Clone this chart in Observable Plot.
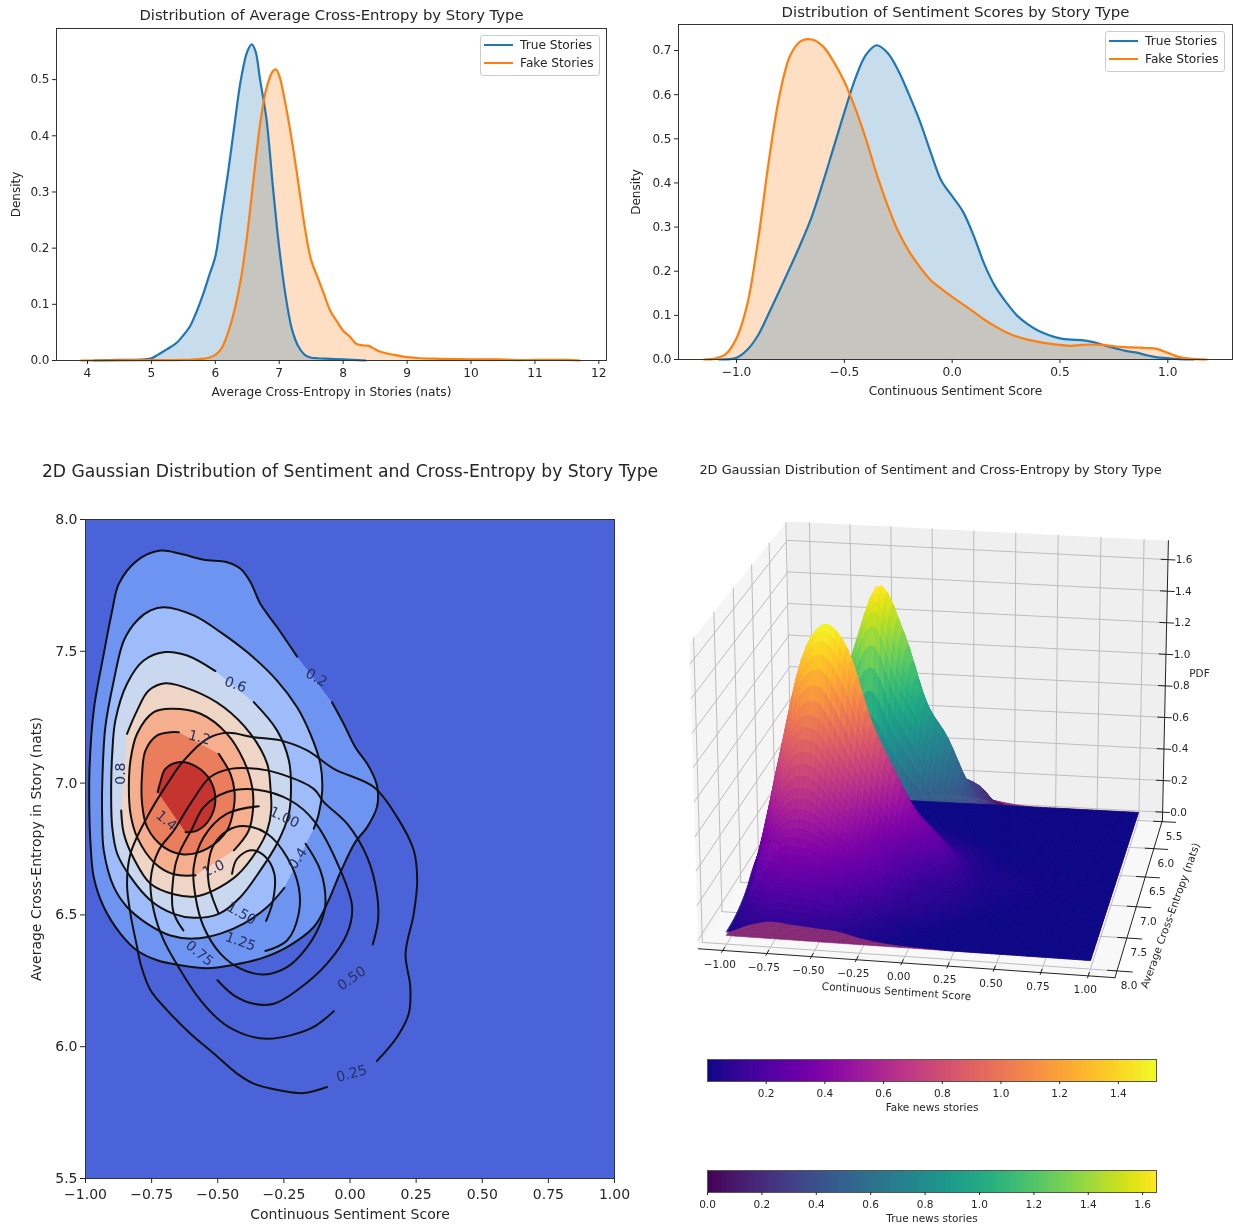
<!DOCTYPE html>
<html><head><meta charset="utf-8">
<script src="https://cdn.jsdelivr.net/npm/d3@7"></script>
<script src="https://cdn.jsdelivr.net/npm/@observablehq/plot@0.6"></script>
<style>
html,body{margin:0;padding:0;background:#fff}
#root{position:relative;width:1233px;height:1228px;overflow:hidden;font-family:"DejaVu Sans";color:#262626;filter:blur(.4px)}
.lg{position:absolute;box-sizing:border-box;width:120px;height:41px;border:1px solid #ccc;border-radius:3px;background:rgba(255,255,255,.8);font-size:12.2px}
.lg i{position:absolute;left:3px;width:29px;height:2px}
.lg span{position:absolute;left:39px;line-height:14px;white-space:nowrap}
</style></head><body><div id="root"></div>
<script>
// ---------- 1D densities (value, density) ----------
const trueEntropy=[[4.1,0],[4.5,.001],[4.9,.002],[5,.004],[5.1,.01],[5.2,.017],[5.3,.024],[5.4,.032],[5.5,.045],[5.6,.06],[5.7,.085],[5.8,.115],[5.9,.15],[6,.185],[6.1,.26],[6.2,.335],[6.3,.42],[6.4,.5],[6.5,.55],[6.57,.563],[6.63,.55],[6.7,.5],[6.8,.43],[6.9,.31],[7,.2],[7.1,.115],[7.2,.055],[7.3,.025],[7.4,.01],[7.5,.005],[7.6,.004],[7.8,.003],[8,.002],[8.35,0]];
const fakeEntropy=[[3.9,0],[5,.0005],[5.5,.001],[5.8,.003],[5.9,.005],[6,.01],[6.1,.022],[6.2,.05],[6.3,.09],[6.4,.145],[6.5,.225],[6.6,.325],[6.7,.42],[6.8,.485],[6.9,.515],[6.95,.518],[7,.507],[7.1,.455],[7.2,.39],[7.3,.315],[7.4,.237],[7.5,.178],[7.6,.148],[7.7,.118],[7.8,.088],[7.9,.07],[8,.053],[8.1,.043],[8.2,.03],[8.3,.027],[8.4,.026],[8.5,.02],[8.6,.015],[8.7,.012],[8.8,.01],[9,.006],[9.2,.004],[9.5,.003],[10,.002],[10.4,.002],[10.7,.0008],[11,.001],[11.5,.001],[11.7,0]];
const trueSentiment=[[-1.08,0],[-1,.004],[-.95,.022],[-.9,.055],[-.85,.105],[-.8,.157],[-.75,.21],[-.7,.265],[-.65,.325],[-.6,.4],[-.55,.48],[-.5,.56],[-.45,.635],[-.4,.69],[-.35,.712],[-.3,.695],[-.25,.655],[-.2,.6],[-.15,.54],[-.1,.47],[-.05,.405],[0,.37],[.05,.335],[.1,.28],[.15,.215],[.2,.165],[.25,.13],[.3,.1],[.35,.08],[.4,.065],[.45,.055],[.5,.048],[.55,.045],[.6,.044],[.65,.04],[.7,.033],[.75,.026],[.8,.02],[.85,.016],[.9,.01],[.95,.005],[1,.003],[1.05,.001],[1.12,0]];
const fakeSentiment=[[-1.15,0],[-1.1,.002],[-1.05,.012],[-1,.048],[-.95,.125],[-.9,.27],[-.85,.45],[-.8,.6],[-.75,.69],[-.7,.722],[-.65,.725],[-.6,.71],[-.55,.675],[-.5,.63],[-.45,.57],[-.4,.5],[-.35,.42],[-.3,.35],[-.25,.29],[-.2,.245],[-.15,.21],[-.1,.18],[-.05,.16],[0,.142],[.05,.125],[.1,.108],[.15,.09],[.2,.075],[.25,.062],[.3,.052],[.35,.045],[.4,.04],[.45,.036],[.5,.033],[.55,.031],[.6,.033],[.65,.034],[.7,.033],[.75,.03],[.8,.028],[.85,.027],[.9,.026],[.95,.024],[1,.015],[1.05,.006],[1.1,.002],[1.18,0]];

// ---------- contour lines (sentiment, cross-entropy) ----------
const fake02=[[-.068,7.307],[-.024,7.225],[.02,7.136],[.065,7.073],[.096,7.01],[.105,6.972],[.102,6.909],[.065,6.833],[.02,6.776],[-.036,6.662],[-.087,6.542],[-.137,6.454],[-.238,6.378],[-.339,6.334],[-.439,6.311],[-.54,6.298],[-.641,6.309],[-.729,6.328],[-.805,6.365],[-.868,6.429],[-.931,6.53],[-.969,6.644],[-.981,6.77],[-.985,6.871],[-.985,7.048],[-.969,7.275],[-.931,7.49],[-.899,7.655],[-.874,7.756],[-.805,7.844],[-.717,7.882],[-.641,7.87],[-.553,7.847],[-.465,7.838],[-.414,7.813],[-.376,7.762],[-.339,7.68],[-.276,7.592],[-.2,7.48]];
const fake04=[[-.248,6.603],[-.313,6.53],[-.402,6.467],[-.49,6.429],[-.591,6.41],[-.679,6.422],[-.767,6.467],[-.843,6.53],[-.893,6.606],[-.931,6.745],[-.937,6.871],[-.937,6.985],[-.925,7.212],[-.893,7.389],[-.855,7.541],[-.805,7.617],[-.754,7.655],[-.704,7.667],[-.591,7.636],[-.49,7.573],[-.389,7.497],[-.276,7.389],[-.2,7.288],[-.15,7.187],[-.112,7.073],[-.105,6.972],[-.118,6.884],[-.137,6.827]];
const fake06=[[-.364,7.307],[-.276,7.2],[-.231,7.086],[-.223,6.985],[-.231,6.884],[-.276,6.77],[-.339,6.669],[-.414,6.568],[-.496,6.504],[-.591,6.489],[-.666,6.504],[-.754,6.555],[-.83,6.644],[-.88,6.732],[-.899,6.833],[-.903,6.985],[-.899,7.111],[-.887,7.238],[-.843,7.377],[-.78,7.465],[-.698,7.497],[-.616,7.484],[-.509,7.425]];
const fake08=[[-.865,6.896],[-.855,6.808],[-.817,6.713],[-.754,6.618],[-.666,6.578],[-.584,6.57],[-.515,6.593],[-.427,6.65],[-.351,6.745],[-.313,6.82],[-.298,6.896],[-.301,6.985],[-.313,7.073],[-.376,7.187],[-.477,7.288],[-.591,7.351],[-.698,7.379],[-.761,7.351],[-.805,7.275],[-.843,7.187]];
const fake10=[[-.439,6.745],[-.383,6.82],[-.366,6.909],[-.37,6.985],[-.402,7.086],[-.465,7.187],[-.565,7.263],[-.679,7.282],[-.742,7.269],[-.805,7.187],[-.83,7.086],[-.836,6.985],[-.83,6.884],[-.805,6.795],[-.736,6.694],[-.666,6.654],[-.584,6.65]];
const fake12=[[-.496,7.111],[-.452,7.035],[-.437,6.972],[-.439,6.909],[-.465,6.82],[-.54,6.751],[-.628,6.729],[-.704,6.757],[-.767,6.833],[-.786,6.922],[-.786,7.035],[-.773,7.124],[-.729,7.181],[-.679,7.193],[-.647,7.193]];
const fake14=[[-.622,6.814],[-.578,6.82],[-.534,6.858],[-.509,6.934],[-.528,7.01],[-.578,7.061],[-.641,7.08],[-.698,7.054],[-.717,7.004],[-.727,6.966]];
const true025=[[-.087,5.847],[-.175,5.824],[-.263,5.834],[-.364,5.86],[-.427,5.898],[-.515,5.974],[-.603,6.049],[-.691,6.138],[-.754,6.214],[-.792,6.315],[-.805,6.378],[-.83,6.504],[-.843,6.618],[-.83,6.732],[-.767,6.871],[-.691,6.997],[-.628,7.086],[-.54,7.168],[-.465,7.191],[-.364,7.174],[-.263,7.162],[-.162,7.124],[-.061,7.054],[.09,6.985],[.178,6.871],[.241,6.745],[.254,6.631],[.241,6.504],[.21,6.353],[.228,6.226],[.222,6.125],[.178,6.037],[.102,5.946]];
const true050=[[-.061,6.135],[-.137,6.075],[-.225,6.043],[-.313,6.03],[-.389,6.043],[-.477,6.087],[-.565,6.176],[-.641,6.29],[-.704,6.403],[-.742,6.517],[-.754,6.631],[-.723,6.745],[-.666,6.82],[-.603,6.922],[-.528,7.023],[-.452,7.054],[-.351,7.054],[-.263,7.035],[-.137,6.978],[-.099,6.928],[-.011,6.846],[.065,6.719],[.102,6.58],[.106,6.479],[.086,6.388]];
const true075=[[-.501,6.252],[-.439,6.195],[-.364,6.163],[-.288,6.163],[-.2,6.214],[-.087,6.315],[-.011,6.429],[.008,6.53],[-.036,6.669],[-.137,6.858],[-.225,6.934],[-.351,6.975],[-.465,6.966],[-.553,6.909],[-.597,6.827],[-.641,6.745],[-.662,6.681],[-.669,6.517],[-.63,6.441]];
const true100=[[-.168,6.77],[-.112,6.669],[-.093,6.542],[-.112,6.467],[-.162,6.378],[-.238,6.302],[-.326,6.274],[-.414,6.296],[-.49,6.353],[-.553,6.454],[-.584,6.568],[-.591,6.681],[-.553,6.795],[-.465,6.884],[-.345,6.912]];
const true125=[[-.32,6.363],[-.238,6.403],[-.194,6.504],[-.194,6.606],[-.238,6.719],[-.313,6.808],[-.402,6.837],[-.463,6.82],[-.516,6.764],[-.536,6.688],[-.534,6.618],[-.521,6.568],[-.497,6.506]];
const true150=[[-.317,6.477],[-.291,6.555],[-.286,6.656],[-.326,6.726],[-.376,6.745],[-.427,6.713],[-.446,6.656]];
const fakeLevels=[fake02,fake04,fake06,fake08,fake10,fake12,fake14];
const fakeFills=["#6E94F2","#9DBCF9","#C9D7EF","#EFD5C6","#F6AF8E","#EA7D5B","#C6342F"];
const trueLevels=[true025,true050,true075,true100,true125,true150];
const contourLabels=[["0.2",-.127,7.4,30],["0.6",-.433,7.374,20],["1.2",-.569,7.173,15],["0.8",-.868,7.036,-90],["1.4",-.694,6.858,40],["1.00",-.248,6.87,25],["0.4",-.198,6.714,-55],["1.0",-.516,6.676,-25],["1.50",-.41,6.505,30],["1.25",-.414,6.399,20],["0.75",-.569,6.354,40],["0.50",.006,6.259,-35],["0.25",.006,5.898,-15]];

// ---------- surface heights (rows: cross-entropy, columns: sentiment) ----------
const gridS=[-1,-.875,-.75,-.625,-.5,-.375,-.25,-.125,0,.125,.25,.375,.5,.625,.75,.875,1];
const gridE=[5.5,5.75,6,6.25,6.5,6.75,7,7.25,7.5,7.75,8];
const fakePdf=[
[0,0,0,0,0,0,0,0,0,0,0,0,0,0,0,0,0],
[0,0,.002,.004,.005,.004,.003,.002,.001,0,0,0,0,0,0,0,0],
[0,.01,.02,.03,.03,.03,.02,.01,.005,.002,0,0,0,0,0,0,0],
[.005,.04,.11,.16,.17,.14,.1,.06,.03,.01,.005,0,0,0,0,0,0],
[.03,.26,.47,.61,.6,.43,.27,.21,.08,.05,.02,.005,.005,.005,.005,0,0],
[.12,.6,1.07,1.22,1.12,.78,.55,.33,.2,.09,.04,.02,.01,.01,.005,0,0],
[.17,.77,1.32,1.52,1.38,.97,.67,.43,.3,.15,.05,.03,.02,.01,.01,.005,0],
[.15,.62,.97,1.02,.81,.59,.37,.24,.13,.08,.04,.02,.01,.01,.005,0,0],
[.07,.38,.58,.6,.5,.39,.28,.14,.08,.05,.02,.005,.005,.005,0,0,0],
[.03,.2,.31,.31,.28,.2,.11,.05,.02,.01,0,0,0,0,0,0,0],
[.02,.07,.1,.09,.08,.07,.04,.02,.01,.005,0,0,0,0,0,0,0]];
const truePdf=[
[0,0,0,0,.01,.03,.05,.06,.05,.03,.01,0,0,0,0,0,0],
[0,0,.01,.03,.08,.15,.19,.2,.18,.13,.06,.01,.005,0,0,0,0],
[0,0,.04,.16,.32,.46,.47,.4,.33,.27,.1,.02,.01,.005,.005,0,0],
[0,.03,.2,.5,.8,.96,.93,.68,.47,.33,.2,.04,.01,.01,.01,.005,0],
[0,.16,.42,.83,1.22,1.6,1.36,.95,.73,.42,.2,.05,.02,.02,.01,.005,0],
[.01,.18,.44,.8,1.28,1.55,1.22,.95,.6,.42,.23,.06,.02,.02,.01,.005,0],
[0,.03,.13,.35,.6,.72,.55,.41,.32,.2,.05,.01,.01,.01,.005,0,0],
[0,0,.02,.06,.14,.17,.15,.12,.06,.02,.005,0,0,0,0,0,0],
[0,0,.005,.01,.03,.04,.03,.02,.01,0,0,0,0,0,0,0,0],
[0,0,0,.002,.005,.005,.005,0,0,0,0,0,0,0,0,0,0],
[0,0,0,0,0,0,0,0,0,0,0,0,0,0,0,0,0]];

const root=document.getElementById("root");
const INK="#262626", BLUE="#1f77b4", ORANGE="#ff7f0e";
const place=(svg,left,top)=>{svg.style.cssText+=`;position:absolute;left:${left}px;top:${top}px;max-width:none;height:auto;background:transparent;overflow:visible`;root.append(svg);return svg;};
const X=d=>d[0],Y=d=>d[1];

function legend(left,top){
  const el=document.createElement("div");el.className="lg";el.style.left=left+"px";el.style.top=top+"px";
  el.innerHTML=`<i style="top:8px;background:${BLUE}"></i><span style="top:2px">True Stories</span><i style="top:26px;background:${ORANGE}"></i><span style="top:20px">Fake Stories</span>`;
  root.append(el);
}
function densityPanel({left,top,width,height,margins,xDomain,yDomain,xTicks,xFmt,xLabel,yTicks,title,a,b,titleDy,titleSize}){
  const [mt,mr,mb,ml]=margins;
  return place(Plot.plot({width,height,marginTop:mt,marginRight:mr,marginBottom:mb,marginLeft:ml,
    style:{fontFamily:"DejaVu Sans",fontSize:"12px",color:INK},
    x:{domain:xDomain},y:{domain:yDomain},
    marks:[
      Plot.areaY(b,{x:X,y:Y,fill:ORANGE,fillOpacity:.25,curve:"catmull-rom"}),
      Plot.areaY(a,{x:X,y:Y,fill:BLUE,fillOpacity:.25,curve:"catmull-rom"}),
      Plot.lineY(a,{x:X,y:Y,stroke:BLUE,strokeWidth:2.2,curve:"catmull-rom"}),
      Plot.lineY(b,{x:X,y:Y,stroke:ORANGE,strokeWidth:2.2,curve:"catmull-rom"}),
      Plot.frame({stroke:"#333",strokeWidth:1}),
      Plot.axisX({ticks:xTicks,tickFormat:xFmt,tickSize:4,tickPadding:4,label:xLabel,labelAnchor:"center",labelArrow:"none",labelOffset:35,fontSize:12.2,fontVariant:"normal"}),
      Plot.axisY({ticks:yTicks,tickFormat:".1f",tickSize:4,tickPadding:3,label:"Density",labelAnchor:"center",labelArrow:"none",labelOffset:ml-11,fontSize:12,fontVariant:"normal"}),
      Plot.text([title],{frameAnchor:"top",lineAnchor:"middle",dy:titleDy,fontSize:titleSize,fill:INK})
    ]}),left,top);
}
densityPanel({left:0,top:0,width:620,height:410,margins:[28,14,50,56],xDomain:[3.515,12.12],yDomain:[0,.591],xTicks:[4,5,6,7,8,9,10,11,12],xFmt:"d",xLabel:"Average Cross-Entropy in Stories (nats)",yTicks:[0,.1,.2,.3,.4,.5],title:"Distribution of Average Cross-Entropy by Story Type",a:trueEntropy,b:fakeEntropy,titleDy:-13,titleSize:14.8});
densityPanel({left:620,top:0,width:613,height:410,margins:[24,1,51,58],xDomain:[-1.269,1.30],yDomain:[0,.759],xTicks:[-1,-.5,0,.5,1],xFmt:".1f",xLabel:"Continuous Sentiment Score",yTicks:[0,.1,.2,.3,.4,.5,.6,.7],title:"Distribution of Sentiment Scores by Story Type",a:trueSentiment,b:fakeSentiment,titleDy:-12,titleSize:14.9});
legend(480,35);legend(1105,31);

// ---------- contour panel ----------
const contourMarks=[Plot.frame({fill:"#4A63D8"})];
fakeLevels.forEach((pts,i)=>contourMarks.push(Plot.line(pts,{x:X,y:Y,fill:fakeFills[i],stroke:"none",curve:"catmull-rom"})));
[...fakeLevels,...trueLevels].forEach(pts=>contourMarks.push(Plot.line(pts,{x:X,y:Y,stroke:"#111",strokeWidth:2,curve:"catmull-rom"})));
place(Plot.plot({width:640,height:773,marginTop:64,marginRight:26,marginBottom:50,marginLeft:85,
  style:{fontFamily:"DejaVu Sans",fontSize:"14px",color:INK},
  x:{domain:[-1,1]},y:{domain:[5.5,8]},
  marks:[...contourMarks,
    Plot.text(contourLabels,{x:d=>d[1],y:d=>d[2],text:d=>d[0],rotate:d=>d[3],fontSize:14,fill:"#27305a"}),
    Plot.frame({stroke:"#333",strokeWidth:1}),
    Plot.axisX({ticks:d3.range(-1,1.01,.25),tickFormat:".2f",tickSize:5,tickPadding:6,label:"Continuous Sentiment Score",labelAnchor:"center",labelArrow:"none",labelOffset:40,fontSize:14,fontVariant:"normal"}),
    Plot.axisY({ticks:[5.5,6,6.5,7,7.5,8],tickFormat:".1f",tickSize:5,tickPadding:3,label:"Average Cross-Entropy in Story (nats)",labelAnchor:"center",labelArrow:"none",labelOffset:54,fontSize:14,fontVariant:"normal"}),
    Plot.text(["2D Gaussian Distribution of Sentiment and Cross-Entropy by Story Type"],{frameAnchor:"top",lineAnchor:"middle",dy:-48,fontSize:17.2,fill:INK})
  ]}),0,455);

// ---------- 3D panel: camera view ----------
const P4={left:660,top:455,w:573,h:560};
const view={corners:[[813,795],[1138,812],[1090,960],[726,935]],hBack:158,hFront:172,lean:.018,cx:975};
const hom=(()=>{const [[x0,y0],[x1,y1],[x2,y2],[x3,y3]]=view.corners;
  const dx1=x1-x2,dx2=x3-x2,sx=x0-x1+x2-x3,dy1=y1-y2,dy2=y3-y2,sy=y0-y1+y2-y3,D=dx1*dy2-dx2*dy1;
  const g=(sx*dy2-dx2*sy)/D,h=(dx1*sy-sx*dy1)/D;
  return {a:x1-x0+g*x1,b:x3-x0+h*x3,c:x0,d:y1-y0+g*y1,e:y3-y0+h*y3,f:y0,g,h};})();
function project(s,e,z){
  const u=(s+1)/2,v=(e-5.5)/2.5,w=hom.g*u+hom.h*v+1;
  const x=(hom.a*u+hom.b*v+hom.c)/w,y=(hom.d*u+hom.e*v+hom.f)/w;
  const hz=view.hBack+(view.hFront-view.hBack)*v;
  return [x+(x-view.cx)*view.lean*z-P4.left,y-hz*z-P4.top];
}
const S0=-1.14,S1=1.14,E0=5.47,E1=8.1,ZF=-.05,ZT=1.72;
const xTicks3=d3.range(-1,1.01,.25),eTicks3=[5.5,6,6.5,7,7.5,8],zTicks3=[0,.2,.4,.6,.8,1,1.2,1.4,1.6];
const poly=(pts,fill)=>Plot.line(pts.map(p=>project(...p)),{x:X,y:Y,fill,stroke:"none",curve:"linear-closed"});
const seg=(a,b,o)=>Plot.line([project(...a),project(...b)],{x:X,y:Y,curve:"linear",...o});
const GRID={stroke:"#bdbdbd",strokeWidth:1},AX={stroke:"#222",strokeWidth:1};
const boxMarks=[
  poly([[S0,E0,ZF],[S0,E1,ZF],[S0,E1,ZT],[S0,E0,ZT]],"#f5f5f5"),
  poly([[S0,E0,ZF],[S1,E0,ZF],[S1,E0,ZT],[S0,E0,ZT]],"#efefef"),
  poly([[S0,E0,ZF],[S1,E0,ZF],[S1,E1,ZF],[S0,E1,ZF]],"#f8f8f8")];
xTicks3.forEach(s=>{boxMarks.push(seg([s,E0,ZF],[s,E0,ZT],GRID),seg([s,E0,ZF],[s,E1,ZF],GRID));});
eTicks3.forEach(e=>{boxMarks.push(seg([S0,e,ZF],[S0,e,ZT],GRID),seg([S0,e,ZF],[S1,e,ZF],GRID));});
zTicks3.forEach(z=>{boxMarks.push(seg([S0,E0,z],[S1,E0,z],GRID),seg([S0,E0,z],[S0,E1,z],GRID));});

// smooth drawing mesh through the read heights
function crom(p0,p1,p2,p3,t){return .5*((2*p1)+(-p0+p2)*t+(2*p0-5*p1+4*p2-p3)*t*t+(-p0+3*p1-3*p2+p3)*t*t*t);}
function sampler(g){
  const nr=g.length,nc=g[0].length,at=(r,c)=>g[Math.max(0,Math.min(nr-1,r))][Math.max(0,Math.min(nc-1,c))];
  return (s,e)=>{
    const fc=(s-gridS[0])/.125,fr=(e-gridE[0])/.25,c=Math.min(nc-2,Math.floor(fc)),r=Math.min(nr-2,Math.floor(fr)),tc=fc-c,tr=fr-r;
    const v=[-1,0,1,2].map(i=>crom(at(r+i,c-1),at(r+i,c),at(r+i,c+1),at(r+i,c+2),tc));
    return Math.max(0,crom(v[0],v[1],v[2],v[3],tr));
  };
}
const trueColor=Plot.scale({color:{type:"linear",scheme:"viridis",domain:[0,1.65]}});
const fakeColor=Plot.scale({color:{type:"linear",scheme:"plasma",domain:[0,1.53]}});
function surface(g,color,lowMix){
  const f=sampler(g),NS=72,NE=72,rows=[];let id=0;
  for(let j=0;j<NE;j++){
    const e0=5.5+2.5*j/NE,e1=5.5+2.5*(j+1)/NE;
    for(let i=0;i<NS;i++){
      const s0=-1+2*i/NS,s1=-1+2*(i+1)/NS;
      const z=[f(s0,e0),f(s1,e0),f(s1,e1),f(s0,e1)],m=d3.mean(z);
      let c=color.apply(m); if(lowMix&&m<.05) c=d3.interpolateRgb(c,"#ff70b0")(lowMix);
      const q=[[s0,e0,z[0]],[s1,e0,z[1]],[s1,e1,z[2]],[s0,e1,z[3]]].map(p=>project(...p));
      id++;q.forEach(p=>rows.push({x:p[0],y:p[1],id,c}));
    }
  }
  return Plot.line(rows,{x:"x",y:"y",z:"id",fill:"c",stroke:"c",strokeWidth:.6,curve:"linear-closed"});
}
const tickT=(arr,fn,fmt,o)=>Plot.text(arr.map(t=>({p:fn(t),t:fmt(t)})),{x:d=>d.p[0],y:d=>d.p[1],text:"t",fontSize:10.5,fill:INK,...o});
const axisMarks=[
  seg([S0,E1,ZF],[S1,E1,ZF],AX),seg([S1,E1,ZF],[S1,E0,ZF],AX),seg([S1,E0,ZF],[S1,E0,ZT],AX),
  ...xTicks3.map(s=>seg([s,E1-.05,ZF],[s,E1+.03,ZF],AX)),
  ...eTicks3.map(e=>seg([S1-.05,e,ZF],[S1+.08,e,ZF],AX)),
  ...zTicks3.map(z=>seg([S1-.04,E0,z],[S1+.04,E0,z],AX)),
  tickT(xTicks3,s=>project(s,E1,ZF),d3.format(".2f"),{dx:-3,dy:14}),
  tickT(eTicks3,e=>project(S1,e,ZF),d3.format(".1f"),{dx:12,dy:15}),
  tickT(zTicks3,z=>project(S1,E0,z),d3.format(".1f"),{dx:16}),
  Plot.text(["Continuous Sentiment Score"],{x:[896-P4.left],y:[991-P4.top],rotate:4,fontSize:10.5,fill:INK}),
  Plot.text(["Average Cross-Entropy (nats)"],{x:[1170-P4.left],y:[915-P4.top],rotate:-70,fontSize:10.5,fill:INK}),
  Plot.text(["PDF"],{x:[1199-P4.left],y:[673-P4.top],fontSize:10.5,fill:INK}),
  Plot.text(["2D Gaussian Distribution of Sentiment and Cross-Entropy by Story Type"],{x:[930-P4.left],y:[469-P4.top],fontSize:12.9,fill:INK})
];
place(Plot.plot({width:P4.w,height:P4.h,margin:0,style:{fontFamily:"DejaVu Sans",fontSize:"10.5px",color:INK},
  x:{domain:[0,P4.w],range:[0,P4.w],axis:null},y:{domain:[0,P4.h],range:[0,P4.h],axis:null},
  marks:[...boxMarks,surface(truePdf,trueColor,.35),surface(fakePdf,fakeColor,0),...axisMarks]}),P4.left,P4.top);

// ---------- colour bars ----------
function colorBar(top,domain,scheme,ticks,label){
  const n=96,step=(domain[1]-domain[0])/n,steps=d3.range(n).map(i=>domain[0]+i*step);
  place(Plot.plot({width:500,height:62,marginTop:0,marginBottom:40,marginLeft:27,marginRight:24,
    style:{fontFamily:"DejaVu Sans",fontSize:"10.5px",color:INK},
    x:{domain},y:{domain:[0,1],axis:null},color:{type:"linear",scheme,domain},
    marks:[
      Plot.rect(steps,{x1:d=>d,x2:d=>Math.min(domain[1],d+2*step),y1:0,y2:1,fill:d=>d+step/2}),
      Plot.frame({stroke:"#555",strokeWidth:1}),
      Plot.axisX({ticks,tickFormat:".1f",tickSize:3,tickPadding:5,label,labelAnchor:"center",labelArrow:"none",labelOffset:29,fontSize:10.5,fontVariant:"normal"})
    ]}),680,top);
}
colorBar(1059,[0,1.53],"plasma",[.2,.4,.6,.8,1,1.2,1.4],"Fake news stories");
colorBar(1170,[0,1.651],"viridis",[0,.2,.4,.6,.8,1,1.2,1.4,1.6],"True news stories");
</script></body></html>
